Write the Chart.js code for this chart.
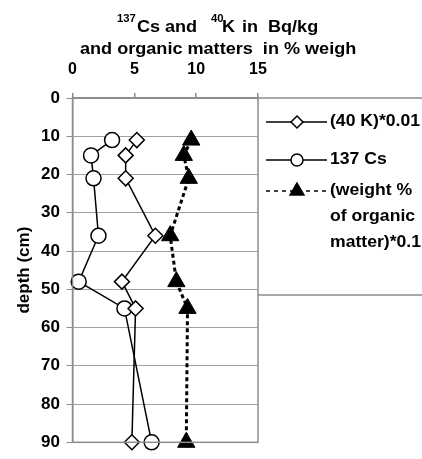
<!DOCTYPE html>
<html>
<head>
<meta charset="utf-8">
<script src="https://cdn.jsdelivr.net/npm/chart.js@4.4.0/dist/chart.umd.min.js"></script>
<style>
  html, body { margin: 0; padding: 0; background: #fff; }
</style>
</head>
<body>
<canvas id="chart" width="422" height="459"></canvas>
<script>
// depth of each sample (cm)
const depth = [11, 15, 21, 36, 48, 55, 90];
// (40 K)*0.01
const k40 = [5.2, 4.3, 4.3, 6.7, 4.0, 5.1, 4.8];
// 137 Cs
const cs137 = [3.2, 1.5, 1.7, 2.1, 0.5, 4.2, 6.4];
// (weight % of organic matter)*0.1
const organic = [9.6, 9.0, 9.4, 7.9, 8.4, 9.3, 9.2];

const xTicks = [0, 5, 10, 15];
const yTicks = [0, 10, 20, 30, 40, 50, 60, 70, 80, 90];

const FONT = "'Liberation Sans', Arial, Helvetica, sans-serif";
const GREY = '#8c8c8c';

function toPoints(values) {
    return values.map((v, i) => ({ x: v, y: depth[i] }));
}

// texte un peu elargi comme dans la figure d'origine
function wideText(c, txt, x, y, font, sx) {
    c.save();
    c.font = font;
    c.translate(x, y);
    c.scale(sx || 1.1, 1);
    c.fillText(txt, 0, 0);
    c.restore();
}

// titre en deux lignes avec exposants
const titlePlugin = {
    id: 'titre',
    afterDraw(chart) {
        const c = chart.ctx;
        c.save();
        c.fillStyle = '#000';
        c.textBaseline = 'alphabetic';
        const big = 'bold 16px ' + FONT;
        const small = 'bold 10px ' + FONT;
        const line1 = [['137', 117, small, 22], ['Cs', 137, big, 32], ['and', 165, big, 32],
                       ['40', 211, small, 22], ['K', 222, big, 32], ['in', 242, big, 32], ['Bq/kg', 268, big, 32]];
        line1.forEach(([txt, x, f, y]) => wideText(c, txt, x, y, f, 1.13));
        wideText(c, 'and organic matters  in % weigh', 80, 54, big, 1.13);
        c.restore();
    }
};

// cadre du graphique + boite de legende
const framePlugin = {
    id: 'cadre',
    afterDraw(chart) {
        const c = chart.ctx;
        const a = chart.chartArea;
        c.save();
        c.strokeStyle = GREY;
        c.lineWidth = 1.5;
        c.strokeRect(a.left, a.top, a.right - a.left, a.bottom - a.top);
        c.beginPath();
        c.moveTo(a.right, a.top);
        c.lineTo(chart.width, a.top);
        c.moveTo(a.right, 295);
        c.lineTo(chart.width, 295);
        c.stroke();

        // entrees de legende
        const rows = [
            { ds: 0, y: 122, text: ['(40 K)*0.01'], dash: [] },
            { ds: 1, y: 160, text: ['137 Cs'], dash: [] },
            { ds: 2, y: 191, text: ['(weight %', 'of organic', 'matter)*0.1'], dash: [4, 4] }
        ];
        rows.forEach(r => {
            const d = chart.data.datasets[r.ds];
            c.strokeStyle = '#000';
            c.lineWidth = 1.5;
            c.setLineDash(r.dash);
            c.beginPath();
            c.moveTo(a.right + 8, r.y);
            c.lineTo(a.right + 69, r.y);
            c.stroke();
            c.setLineDash([]);
            c.fillStyle = d.pointBackgroundColor;
            c.strokeStyle = d.pointBorderColor;
            c.lineWidth = 1.5;
            Chart.helpers.drawPoint(c, { pointStyle: d.pointStyle, radius: d.pointRadius * 0.8, rotation: 0, borderWidth: 1.5 }, a.right + 39, r.y);
            c.fillStyle = '#000';
            c.textBaseline = 'middle';
            r.text.forEach((t, i) => wideText(c, t, a.right + 72, r.y + i * 26, 'bold 16px ' + FONT));
        });
        c.restore();
    }
};

new Chart(document.getElementById('chart'), {
    type: 'scatter',
    data: {
        datasets: [{
            label: '(40 K)*0.01',
            data: toPoints(k40),
            showLine: true,
            clip: false,
            borderColor: '#000',
            borderWidth: 1.5,
            pointStyle: 'rectRot',
            pointRadius: 7.5,
            pointBackgroundColor: '#fff',
            pointBorderColor: '#000',
            pointBorderWidth: 1.5
        }, {
            label: '137 Cs',
            data: toPoints(cs137),
            showLine: true,
            clip: false,
            borderColor: '#000',
            borderWidth: 1.5,
            pointStyle: 'circle',
            pointRadius: 7.5,
            pointBackgroundColor: '#fff',
            pointBorderColor: '#000',
            pointBorderWidth: 1.5
        }, {
            label: '(weight % of organic matter)*0.1',
            data: toPoints(organic),
            showLine: true,
            clip: false,
            borderColor: '#000',
            borderWidth: 3,
            borderDash: [4, 3],
            pointStyle: 'triangle',
            pointRadius: 10,
            pointBackgroundColor: '#000',
            pointBorderColor: '#000',
            pointBorderWidth: 1
        }]
    },
    options: {
        responsive: false,
        animation: false,
        layout: { padding: { left: 0, top: 0, right: 164, bottom: 6.5 } },
        plugins: {
            legend: { display: false },
            title: { display: false },
            tooltip: { enabled: false }
        },
        scales: {
            x: {
                type: 'linear',
                position: 'top',
                min: 0,
                max: 15,
                afterFit: s => { s.height = 98; },
                afterBuildTicks: s => { s.ticks = xTicks.map(v => ({ value: v })); },
                ticks: { color: '#000', font: { family: FONT, size: 16, weight: 'bold' }, padding: 14 },
                grid: { drawOnChartArea: false, tickLength: 5, color: GREY, lineWidth: 1.5 },
                border: { color: GREY, width: 1.5 }
            },
            y: {
                type: 'linear',
                reverse: true,
                min: 0,
                max: 90,
                afterFit: s => { s.width = 72.5; },
                afterBuildTicks: s => { s.ticks = yTicks.map(v => ({ value: v })); },
                ticks: { color: '#000', font: { family: FONT, size: 17, weight: 'bold' }, padding: 6.5 },
                grid: { color: '#a0a0a0', lineWidth: 1, borderDash: [5, 3], tickLength: 6, tickColor: GREY, tickBorderDash: [] },
                border: { color: GREY, width: 1.5 },
                title: {
                    display: true,
                    text: 'depth (cm)',
                    color: '#000',
                    font: { family: FONT, size: 17, weight: 'bold' },
                    padding: { top: 14, bottom: 0 }
                }
            }
        }
    },
    plugins: [titlePlugin, framePlugin]
});
</script>
</body>
</html>
